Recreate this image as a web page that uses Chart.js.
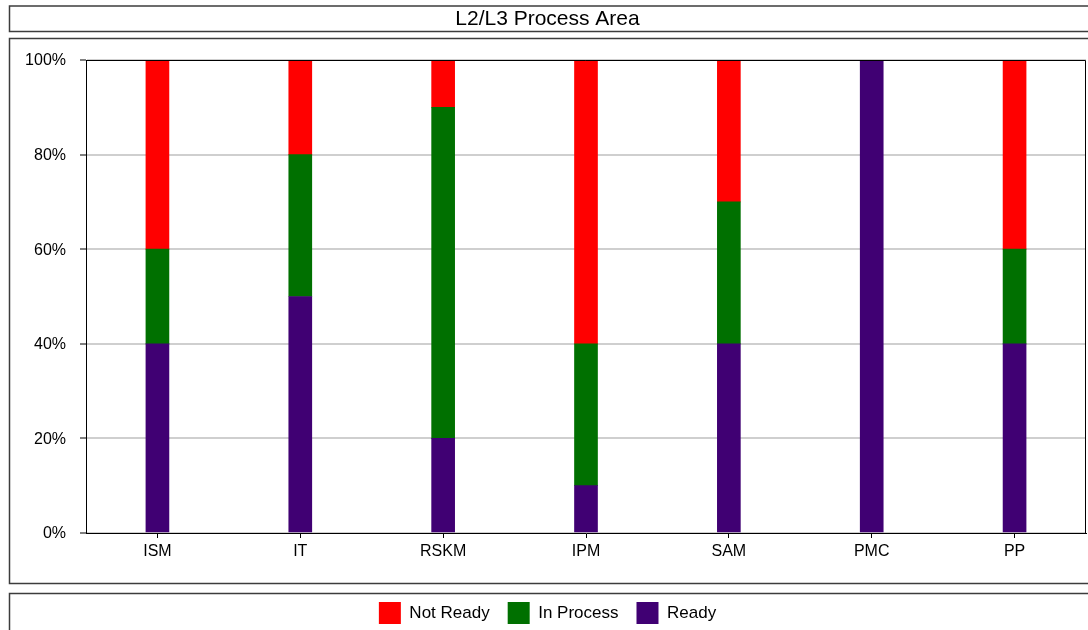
<!DOCTYPE html>
<html>
<head>
<meta charset="utf-8">
<title>L2/L3 Process Area</title>
<script src="https://cdn.jsdelivr.net/npm/chart.js@4/dist/chart.umd.min.js"></script>
<style>
  html, body { margin: 0; padding: 0; background: #fff; overflow: hidden; }
  #wrap { position: relative; width: 1088px; height: 634px; }
</style>
</head>
<body>
<div id="wrap"><canvas id="chart"></canvas></div>
<script>
// Process areas and readiness percentages per area
const categories = ['ISM', 'IT', 'RSKM', 'IPM', 'SAM', 'PMC', 'PP'];
const readyValues = [40, 50, 20, 10, 40, 100, 40];
const inProcessValues = [20, 30, 70, 30, 30, 0, 20];
const notReadyValues = [40, 20, 10, 60, 30, 0, 40];
const seriesNames = ['Ready', 'In Process', 'Not Ready'];
const yTickStep = 20;

// Layout constants
const PLOT_LEFT = 86;
const PLOT_BOTTOM = 533;
const PAD_LEFT = 9;

Chart.defaults.font.family = '"Liberation Sans", Arial, sans-serif';
Chart.defaults.color = '#000';

// Framed panels behind the title, plot and legend, plus the plot outline
const framePlugin = {
  id: 'frames',
  beforeDraw(chart) {
    const ctx = chart.ctx;
    ctx.save();
    ctx.strokeStyle = '#3c3c3c';
    ctx.lineWidth = 1.5;
    ctx.strokeRect(9.5, 6, 1100, 25.5);
    ctx.strokeRect(9.5, 38.5, 1100, 545);
    ctx.strokeRect(9.5, 593.5, 1100, 60);
    ctx.restore();
  },
  afterDatasetsDraw(chart) {
    const a = chart.chartArea;
    const ctx = chart.ctx;
    ctx.save();
    ctx.strokeStyle = '#000';
    ctx.lineWidth = 1;
    ctx.beginPath();
    ctx.moveTo(a.left, Math.round(a.top) + 0.5);
    ctx.lineTo(Math.round(a.right) - 0.5, Math.round(a.top) + 0.5);
    ctx.lineTo(Math.round(a.right) - 0.5, a.bottom);
    ctx.stroke();
    ctx.restore();
  }
};

new Chart(document.getElementById('chart'), {
  type: 'bar',
  data: {
    labels: categories,
    datasets: [
      { label: seriesNames[0], data: readyValues, backgroundColor: '#400073', borderColor: '#5a2e86', borderWidth: 0 },
      { label: seriesNames[1], data: inProcessValues, backgroundColor: '#007000', borderColor: '#3a8a3a', borderWidth: 0 },
      { label: seriesNames[2], data: notReadyValues, backgroundColor: '#ff0000', borderColor: '#ff6a6a', borderWidth: 0 }
    ]
  },
  options: {
    responsive: true,
    maintainAspectRatio: false,
    animation: false,
    barThickness: 23,
    layout: { padding: { left: PAD_LEFT, right: 2, top: 0, bottom: 0 } },
    plugins: {
      title: {
        display: true,
        text: 'L2/L3 Process Area',
        font: { size: 21, weight: 'normal' },
        color: '#000',
        padding: { top: 7, bottom: 27.8 }
      },
      legend: {
        display: true,
        position: 'bottom',
        reverse: true,
        labels: {
          boxWidth: 22,
          boxHeight: 22,
          padding: 18,
          font: { size: 17 },
          color: '#000'
        }
      },
      tooltip: { enabled: false }
    },
    scales: {
      x: {
        stacked: true,
        grid: {
          display: true,
          offset: false,
          drawOnChartArea: false,
          drawTicks: true,
          tickLength: 5,
          tickColor: '#000'
        },
        border: { display: true, color: '#000', width: 1 },
        ticks: { font: { size: 16 }, color: '#000', padding: 4, maxRotation: 0 },
        afterFit(s) {
          s.height = s.chart.height - s.chart.legend.height - PLOT_BOTTOM;
        }
      },
      y: {
        stacked: true,
        min: 0,
        max: 100,
        grid: {
          color: '#cfcfcf',
          lineWidth: 2,
          tickColor: '#000',
          tickWidth: 1,
          tickLength: 6
        },
        border: { display: true, color: '#000', width: 1 },
        ticks: {
          stepSize: yTickStep,
          font: { size: 16 },
          color: '#000',
          padding: 14,
          labelOffset: 1,
          callback: v => v + '%'
        },
        afterFit(s) {
          s.width = PLOT_LEFT - PAD_LEFT;
        }
      }
    }
  },
  plugins: [framePlugin]
});
</script>
</body>
</html>
